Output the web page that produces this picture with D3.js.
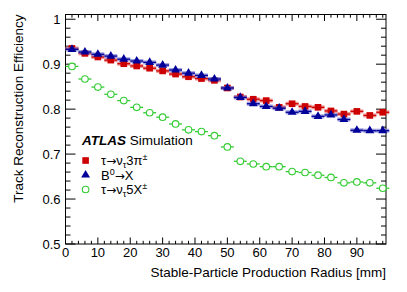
<!DOCTYPE html>
<html lang="en">
<head>
<meta charset="UTF-8">
<title>Track Reconstruction Efficiency</title>
<script src="https://d3js.org/d3.v7.min.js"></script>
<style>
  body { margin: 0; background: #fff; }
  text { font-family: "Liberation Sans", Arial, sans-serif; fill: #000; }
</style>
</head>
<body>
<div id="chart"></div>
<script>

// bin centres in mm (bins are 4 mm wide)
var radius = [2, 6, 10, 14, 18, 22, 26, 30, 34, 38, 42, 46, 50,
              54, 58, 62, 66, 70, 74, 78, 82, 86, 90, 94, 98];

var tau3pi = [0.935, 0.924, 0.916, 0.909, 0.901, 0.896, 0.891, 0.885, 0.878, 0.872, 0.868, 0.864, 0.847,
              0.827, 0.822, 0.819, 0.804, 0.812, 0.806, 0.804, 0.796, 0.789, 0.795, 0.786, 0.793];

var b0x    = [0.933, 0.927, 0.922, 0.918, 0.911, 0.907, 0.904, 0.898, 0.887, 0.880, 0.875, 0.867, 0.847,
              0.826, 0.812, 0.806, 0.802, 0.793, 0.795, 0.784, 0.787, 0.777, 0.753, 0.752, 0.752];

var tau5x  = [0.895, 0.867, 0.849, 0.833, 0.819, 0.804, 0.792, 0.782, 0.767, 0.754, 0.750, 0.741, 0.716,
              0.684, 0.678, 0.672, 0.672, 0.661, 0.659, 0.653, 0.648, 0.636, 0.638, 0.636, 0.624];

var xTicks = [0, 10, 20, 30, 40, 50, 60, 70, 80, 90];
var yTicks = [0.5, 0.6, 0.7, 0.8, 0.9, 1];
var yTickLabels = ["0.5", "0.6", "0.7", "0.8", "0.9", "1"];

var binHalf = 2;

var W = 407, H = 292;
var margin = {top: 14.5, right: 21, bottom: 48, left: 65.5};
var width = W - margin.left - margin.right,
    height = H - margin.top - margin.bottom;

var svg = d3.select("#chart").append("svg")
    .attr("width", W).attr("height", H);

var g = svg.append("g")
    .attr("transform", "translate(" + margin.left + "," + margin.top + ")");

var x = d3.scaleLinear().domain([0, 99]).range([0, width]);
var y = d3.scaleLinear().domain([0.5, 1.0105]).range([height, 0]);

// frame
g.append("rect")
    .attr("width", width).attr("height", height)
    .attr("fill", "none").attr("stroke", "#000").attr("stroke-width", 1);

// ticks on all four sides, pointing inward
var xMinor = d3.range(0, 99, 2).filter(function (d) { return d % 10 != 0; });
var yMinor = d3.range(50, 101, 2).map(function (d) { return d / 100; })
    .filter(function (d) { return Math.round(d * 100) % 10 != 0; });

function tickLines(vals, horiz, len, side) {
  vals.forEach(function (v) {
    if (horiz) {
      var px = x(v);
      var y0 = side == "bottom" ? height : 0;
      var dir = side == "bottom" ? -1 : 1;
      g.append("line").attr("x1", px).attr("x2", px)
        .attr("y1", y0).attr("y2", y0 + dir * len)
        .attr("stroke", "#000").attr("stroke-width", 1);
    } else {
      var py = y(v);
      var x0 = side == "left" ? 0 : width;
      var d = side == "left" ? 1 : -1;
      g.append("line").attr("y1", py).attr("y2", py)
        .attr("x1", x0).attr("x2", x0 + d * len)
        .attr("stroke", "#000").attr("stroke-width", 1);
    }
  });
}
tickLines(xTicks, true, 6.5, "bottom");
tickLines(xTicks, true, 6.5, "top");
tickLines(xMinor, true, 3.2, "bottom");
tickLines(xMinor, true, 3.2, "top");
tickLines(yTicks, false, 10, "left");
tickLines(yTicks, false, 10, "right");
tickLines(yMinor, false, 5, "left");
tickLines(yMinor, false, 5, "right");

// tick labels
g.selectAll(".xlab").data(xTicks).enter().append("text")
    .attr("x", function (d) { return x(d); })
    .attr("y", height + 12.5)
    .attr("text-anchor", "middle")
    .style("font-size", "13px")
    .text(function (d) { return d; });

g.selectAll(".ylab").data(yTicks).enter().append("text")
    .attr("x", -5)
    .attr("y", function (d) { return y(d) + 4.7; })
    .attr("text-anchor", "end")
    .style("font-size", "13px")
    .text(function (d, i) { return yTickLabels[i]; });

// axis titles
g.append("text")
    .attr("x", width).attr("y", height + 33)
    .attr("text-anchor", "end")
    .style("font-size", "13.5px")
    .text("Stable-Particle Production Radius [mm]");

g.append("text")
    .attr("transform", "translate(" + (-42.5) + ",0) rotate(-90)")
    .attr("text-anchor", "end")
    .style("font-size", "13.5px")
    .text("Track Reconstruction Efficiency");

// data series with shaded boxes
function drawBoxed(vals, dark, light, marker) {
  var s = g.append("g");
  s.selectAll(".box").data(vals).enter().append("rect")
    .attr("x", function (d, i) { return x(radius[i] - binHalf); })
    .attr("width", x(2 * binHalf) - x(0))
    .attr("y", function (d) { return y(d) - 2; })
    .attr("height", 4)
    .attr("fill", light);
  s.selectAll(".bar").data(vals).enter().append("line")
    .attr("x1", function (d, i) { return x(radius[i] - binHalf); })
    .attr("x2", function (d, i) { return x(radius[i] + binHalf); })
    .attr("y1", function (d) { return y(d); })
    .attr("y2", function (d) { return y(d); })
    .attr("stroke", dark).attr("stroke-width", 1.3);
  s.selectAll(".pt").data(vals).enter().append("path")
    .attr("transform", function (d, i) { return "translate(" + x(radius[i]) + "," + y(d) + ")"; })
    .attr("d", d3.symbol().type(marker).size(marker == d3.symbolSquare ? 44 : 34))
    .attr("fill", dark);
}

drawBoxed(tau3pi, "#cc0000", "rgba(235,110,110,0.7)", d3.symbolSquare);
drawBoxed(b0x, "#000099", "rgba(120,120,210,0.7)", d3.symbolTriangle);

var green = "#33cc33";
var gs = g.append("g");
gs.selectAll(".bar").data(tau5x).enter().append("line")
    .attr("x1", function (d, i) { return x(radius[i] - binHalf); })
    .attr("x2", function (d, i) { return x(radius[i] + binHalf); })
    .attr("y1", function (d) { return y(d); })
    .attr("y2", function (d) { return y(d); })
    .attr("stroke", green).attr("stroke-width", 1.3);
gs.selectAll(".pt").data(tau5x).enter().append("circle")
    .attr("cx", function (d, i) { return x(radius[i]); })
    .attr("cy", function (d) { return y(d); })
    .attr("r", 3.3)
    .attr("fill", "#fff").attr("stroke", green).attr("stroke-width", 1.1);

// legend
var lg = svg.append("g");
var atlas = lg.append("text").attr("x", 82).attr("y", 145).style("font-size", "13.5px");
atlas.append("tspan").style("font-weight", "bold").style("font-style", "italic").text("ATLAS");
atlas.append("tspan").text(" Simulation");

var legY = [160.5, 175, 189.5];
lg.append("rect").attr("x", 82.3).attr("y", legY[0] - 3.3).attr("width", 6.6).attr("height", 6.6).attr("fill", "#cc0000");
lg.append("path").attr("transform", "translate(85.6," + legY[1] + ")")
    .attr("d", d3.symbol().type(d3.symbolTriangle).size(34)).attr("fill", "#000099");
lg.append("circle").attr("cx", 85.6).attr("cy", legY[2]).attr("r", 3.3)
    .attr("fill", "#fff").attr("stroke", green).attr("stroke-width", 1.1);

var t1 = lg.append("text").attr("x", 101).attr("y", legY[0] + 4.7).style("font-size", "13px");
t1.append("tspan").text("τ");
t1.append("tspan").style("font-family", "DejaVu Sans").style("font-size", "12px").text("→");
t1.append("tspan").text("ν");
t1.append("tspan").attr("dy", 3).style("font-size", "9px").text("τ");
t1.append("tspan").attr("dy", -3).text("3π");
t1.append("tspan").attr("dy", -5).style("font-size", "9px").text("±");

var t2 = lg.append("text").attr("x", 101).attr("y", legY[1] + 4.7).style("font-size", "13px");
t2.append("tspan").text("B");
t2.append("tspan").attr("dy", -5).style("font-size", "9px").text("0");
t2.append("tspan").attr("dy", 5).style("font-family", "DejaVu Sans").style("font-size", "12px").text("→");
t2.append("tspan").text("X");

var t3 = lg.append("text").attr("x", 101).attr("y", legY[2] + 4.7).style("font-size", "13px");
t3.append("tspan").text("τ");
t3.append("tspan").style("font-family", "DejaVu Sans").style("font-size", "12px").text("→");
t3.append("tspan").text("ν");
t3.append("tspan").attr("dy", 3).style("font-size", "9px").text("τ");
t3.append("tspan").attr("dy", -3).text("5X");
t3.append("tspan").attr("dy", -5).style("font-size", "9px").text("±");

</script>
</body>
</html>
